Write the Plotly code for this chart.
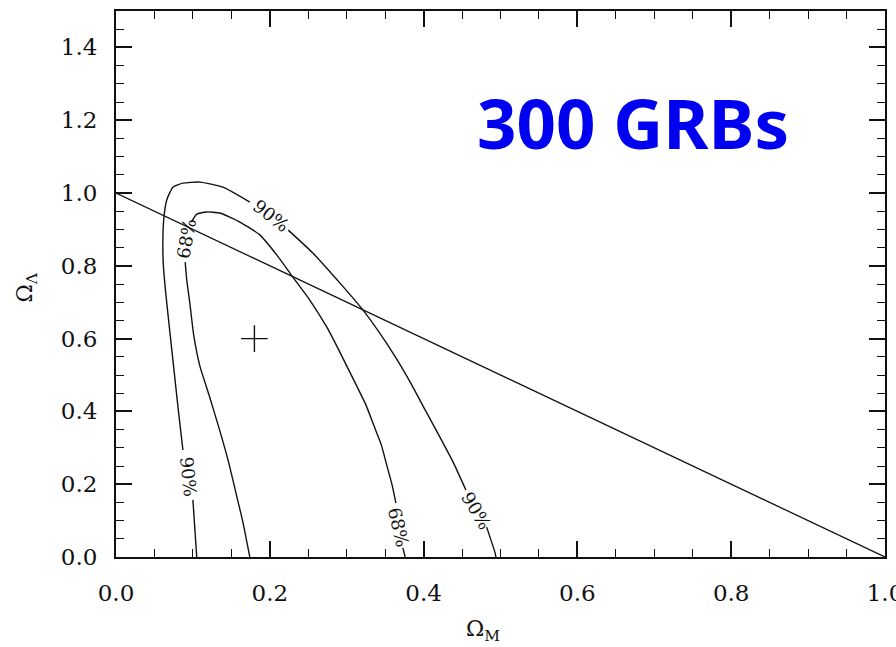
import plotly.graph_objects as go

# Flat-universe line  Omega_M + Omega_Lambda = 1
flat_om = [0.0, 1.0]
flat_ol = [1.0, 0.0]

# Best-fit point
best_om = [0.18]
best_ol = [0.60]

# 68% confidence contour (None marks the breaks where the labels sit)
c68_om = [0.174, 0.165, 0.156, 0.146, 0.134, 0.121, 0.109, 0.101, 0.096, 0.092, 0.090, None,
          0.098, 0.105, 0.118, 0.135, 0.161, 0.187, 0.209, 0.230, 0.252, 0.274,
          0.287, 0.300, 0.313, 0.325, 0.335, 0.345, 0.352, 0.359, 0.364, None, 0.373, 0.376]
c68_ol = [0.000, 0.096, 0.176, 0.264, 0.354, 0.445, 0.525, 0.610, 0.698, 0.761, 0.810, None,
          0.920, 0.942, 0.948, 0.945, 0.920, 0.885, 0.830, 0.769, 0.706, 0.632,
          0.580, 0.525, 0.470, 0.418, 0.363, 0.308, 0.253, 0.198, 0.148, None, 0.025, 0.000]

# 90% confidence contour
c90_om = [0.105, 0.100, None, 0.087, 0.081, 0.074, 0.066, 0.062, 0.061, 0.062,
          0.066, 0.074, 0.087, 0.109, 0.139, 0.174, None, 0.224, 0.256, 0.291,
          0.321, 0.343, 0.364, 0.384, 0.402, 0.421, 0.439, 0.455, None, 0.482,
          0.493, 0.494]
c90_ol = [0.000, 0.157, None, 0.294, 0.404, 0.541, 0.698, 0.788, 0.835, 0.926,
          0.981, 1.016, 1.027, 1.030, 1.016, 0.975, None, 0.898, 0.835, 0.753,
          0.679, 0.615, 0.547, 0.475, 0.404, 0.330, 0.258, 0.184, None, 0.082,
          0.011, 0.000]

# Contour labels: text, position, rotation
lab_text = ["90%", "68%", "90%", "68%", "90%"]
lab_om = [0.2016, 0.092, 0.094, 0.368, 0.469]
lab_ol = [0.937, 0.874, 0.220, 0.082, 0.129]
lab_ang = [38, -80, 84, 77, 59]

x_ticks = [0.0, 0.2, 0.4, 0.6, 0.8, 1.0]
y_ticks = [0.0, 0.2, 0.4, 0.6, 0.8, 1.0, 1.2, 1.4]

line_col = "#111111"
serif = "DejaVu Serif"

fig = go.Figure()
fig.add_trace(go.Scatter(x=flat_om, y=flat_ol, mode="lines",
                         line=dict(color=line_col, width=1.3), showlegend=False))
for cx, cy in ((c68_om, c68_ol), (c90_om, c90_ol)):
    fig.add_trace(go.Scatter(x=cx, y=cy, mode="lines", connectgaps=False,
                             line=dict(color=line_col, width=1.4, shape="spline", smoothing=0.5),
                             showlegend=False))
fig.add_trace(go.Scatter(x=best_om, y=best_ol, mode="markers",
                         marker=dict(symbol="cross-thin", size=19,
                                     line=dict(color=line_col, width=1.4)),
                         showlegend=False))

for t, xo, yo, a in zip(lab_text, lab_om, lab_ol, lab_ang):
    fig.add_annotation(x=xo, y=yo, text=t, textangle=a, showarrow=False,
                       xanchor="center", yanchor="middle",
                       font=dict(family=serif, size=18, color=line_col))

# Sample label
fig.add_annotation(x=0.672, y=1.195, text="<b>300 GRBs</b>", showarrow=False,
                   xanchor="center", yanchor="middle",
                   font=dict(family="Noto Sans", size=69, color="#0000f0"))

# Axis titles
fig.add_annotation(xref="paper", yref="paper", x=0.477, y=-0.134,
                   text="Ω<sub>M</sub>", showarrow=False,
                   xanchor="center", yanchor="middle",
                   font=dict(family=serif, size=22, color="#111"))
fig.add_annotation(xref="paper", yref="paper", x=-0.116, y=0.493,
                   text="Ω<sub>Λ</sub>", textangle=-90, showarrow=False,
                   xanchor="center", yanchor="middle",
                   font=dict(family=serif, size=22, color="#111"))

axis_common = dict(
    showgrid=False, zeroline=False, showline=True, linecolor="#111", linewidth=2,
    mirror="allticks", ticks="inside", ticklen=16, tickwidth=1.6, tickcolor="#111",
    tickformat=".1f", tickfont=dict(family=serif, size=23, color="#111"),
    ticklabeloverflow="allow", automargin=False,
    minor=dict(ticks="inside", ticklen=8, tickwidth=1.4, tickcolor="#111", dtick=0.05,
               showgrid=False),
)

fig.update_xaxes(range=[0, 1], tickvals=x_ticks, ticklabelstandoff=14, **axis_common)
fig.update_yaxes(range=[0, 1.5], tickvals=y_ticks, ticklabelstandoff=12, **axis_common)

fig.update_layout(
    width=896, height=647,
    margin=dict(l=116, r=11, t=11, b=90),
    paper_bgcolor="white", plot_bgcolor="white",
)

fig.write_html("out.html")
